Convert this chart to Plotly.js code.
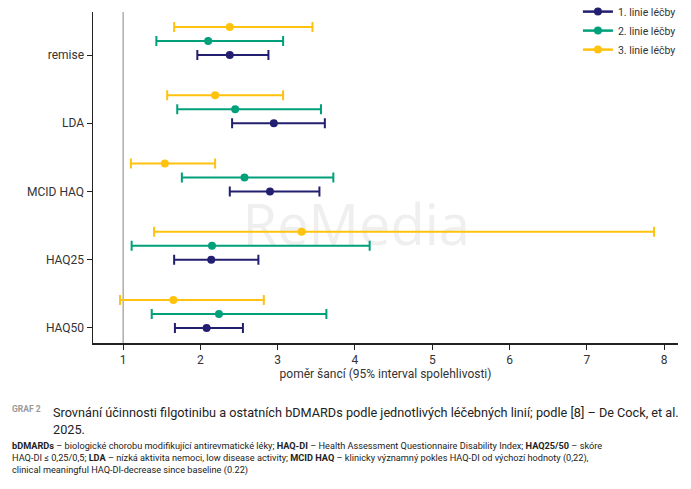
<!DOCTYPE html>
<html><head><meta charset="utf-8">
<script src="https://cdn.plot.ly/plotly-3.0.1.min.js"></script>
<style>body{margin:0;background:#fff}#chart{width:691px;height:489px}</style>
</head><body><div id="chart"></div>
<script>
const categories = ["remise", "LDA", "MCID HAQ", "HAQ25", "HAQ50"];
const seriesNames = ["1. linie léčby", "2. linie léčby", "3. linie léčby"];
const or1 = [2.38, 2.95, 2.90, 2.14, 2.08];
const lo1 = [1.96, 2.41, 2.38, 1.66, 1.67];
const hi1 = [2.88, 3.61, 3.54, 2.75, 2.55];
const or2 = [2.10, 2.45, 2.57, 2.15, 2.24];
const lo2 = [1.43, 1.70, 1.76, 1.11, 1.37];
const hi2 = [3.07, 3.56, 3.72, 4.19, 3.63];
const or3 = [2.38, 2.19, 1.54, 3.31, 1.65];
const lo3 = [1.66, 1.57, 1.10, 1.40, 0.96];
const hi3 = [3.45, 3.07, 2.19, 7.87, 2.82];
const xTicks = [1, 2, 3, 4, 5, 6, 7, 8];
const colors = ["#231f70", "#00a07a", "#ffc20e"];

const series = [[or1, lo1, hi1], [or2, lo2, hi2], [or3, lo3, hi3]];
const offsets = [0, 0.205, 0.41];
const n = categories.length;
const catPos = categories.map((c, i) => n - 1 - i);

const traces = series.map((s, k) => {
  const x = [], y = [], ep = [], em = [];
  s[0].forEach((v, i) => {
    x.push(v); y.push(catPos[i] + offsets[k]);
    ep.push(s[2][i] - v); em.push(v - s[1][i]);
    x.push(null); y.push(null); ep.push(null); em.push(null);
  });
  return {
    type: "scatter", mode: "lines+markers", name: seriesNames[k],
    x: x, y: y, connectgaps: false,
    line: {color: colors[k], width: 2.5},
    marker: {color: colors[k], size: 8},
    error_x: {type: "data", symmetric: false, array: ep, arrayminus: em,
      color: colors[k], thickness: 2, width: 5}
  };
});

const font = "Roboto, 'Open Sans', sans-serif";
const layout = {
  width: 691, height: 489,
  margin: {l: 93, r: 13, t: 12, b: 146, autoexpand: false},
  paper_bgcolor: "#fff", plot_bgcolor: "#fff",
  font: {family: font, color: "#333", size: 12},
  showlegend: true,
  legend: {x: 1.005, xanchor: "right", y: 1.045, yanchor: "top", traceorder: "normal",
    font: {size: 10.5, color: "#333"}, itemwidth: 30, tracegroupgap: 0, bgcolor: "rgba(0,0,0,0)"},
  xaxis: {range: [0.61, 8.18], tickvals: xTicks, ticktext: xTicks.map(String),
    showgrid: false, zeroline: false, showline: true, linecolor: "#222", linewidth: 1.5,
    ticks: "outside", ticklen: 5, tickcolor: "#222", tickfont: {size: 12, color: "#333"},
    title: {text: "poměr šancí (95% interval spolehlivosti)", font: {size: 12, color: "#333"}, standoff: 3}},
  yaxis: {range: [-0.22, 4.63], tickvals: catPos, ticktext: categories,
    showgrid: false, zeroline: false, showline: true, linecolor: "#222", linewidth: 1.5,
    ticks: "outside", ticklen: 5, tickcolor: "#222", tickfont: {size: 12, color: "#333"}},
  shapes: [
    {type: "line", xref: "x", yref: "paper", x0: 1, x1: 1, y0: 0, y1: 1,
      line: {color: "#999", width: 1.2}, layer: "below"},
    {type: "rect", xref: "paper", yref: "paper", x0: 0.2, x1: 0.7, y0: 0.25, y1: 0.45,
      line: {width: 0}, fillcolor: "rgba(0,0,0,0)", layer: "below",
      label: {text: "ReMedia", textposition: "middle center",
        font: {size: 56, color: "#efefef", family: "'Open Sans', sans-serif"}}}
  ],
  annotations: [
    {text: "<b>GRAF 2</b>", xref: "paper", yref: "paper",
      x: -0.142, xanchor: "left", y: -0.198, yanchor: "middle", showarrow: false, align: "left",
      font: {size: 8.5, color: "#999"}},
    {text: "Srovnání účinnosti filgotinibu a ostatních bDMARDs podle jednotlivých léčebných linií; podle [8] – De Cock, et al.<br>2025.",
      xref: "paper", yref: "paper", x: -0.071, xanchor: "left", y: -0.18, yanchor: "top",
      showarrow: false, align: "left", font: {size: 12.7, color: "#222"}},
    {text: "<b>bDMARDs</b> – biologické chorobu modifikující antirevmatické léky; <b>HAQ-DI</b> – Health Assessment Questionnaire Disability Index; <b>HAQ25/50</b> – skóre<br>HAQ-DI ≤ 0,25/0,5; <b>LDA</b> – nízká aktivita nemoci, low disease activity; <b>MCID HAQ</b> – klinicky významný pokles HAQ-DI od výchozí hodnoty (0,22),<br>clinical meaningful HAQ-DI-decrease since baseline (0.22)",
      xref: "paper", yref: "paper", x: -0.142, xanchor: "left", y: -0.287, yanchor: "top",
      showarrow: false, align: "left", font: {size: 9.2, color: "#222"}}
  ]
};
Plotly.newPlot("chart", traces, layout, {displayModeBar: false, staticPlot: true});
</script></body></html>
